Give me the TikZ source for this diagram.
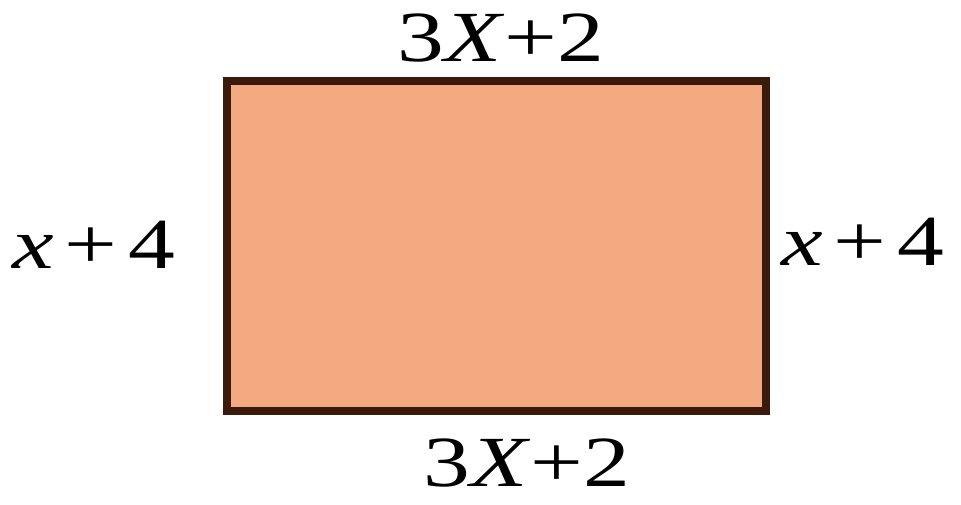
\documentclass[tikz,border=0pt]{standalone}
\usepackage{fontspec}
\setmainfont{Liberation Serif}
\definecolor{fillorange}{HTML}{F3AA80}
\definecolor{edgebrown}{HTML}{3A1A0A}
\begin{document}
\begin{tikzpicture}[x=1pt,y=-1pt,
  lbl/.style={font=\fontsize{72}{78}\selectfont, inner sep=0pt, anchor=base, xscale=1.3},
  box/.style={draw=edgebrown, fill=fillorange, line width=8pt}]
\useasboundingbox (0,0) rectangle (961,504);
\draw[box] (227,81) rectangle (766,411);
\node[lbl] (top) at (501,61) {3\textit{X}+2};
\node[lbl] (bottom) at (527,486) {3\textit{X}+2};
\node[lbl] (left) at (94,268) {\textit{x}\kern0.12em+\kern0.12em4};
\node[lbl] (right) at (863,265) {\textit{x}\kern0.12em+\kern0.12em4};
\end{tikzpicture}
\end{document}
